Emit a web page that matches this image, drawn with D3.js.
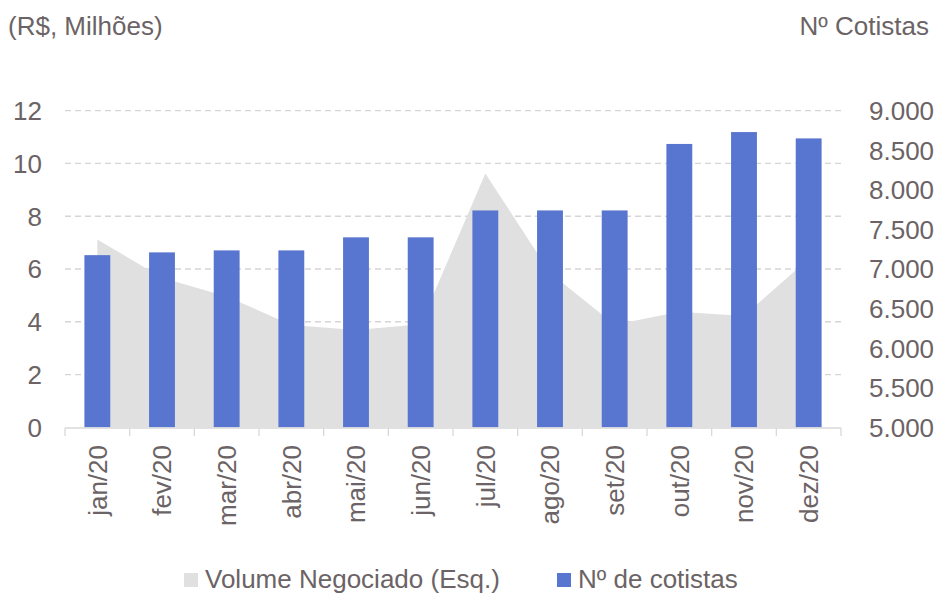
<!DOCTYPE html>
<html>
<head>
<meta charset="utf-8">
<script src="https://cdn.jsdelivr.net/npm/d3@7"></script>
<style>
  html, body { margin: 0; padding: 0; background: #fff; }
  svg { display: block; }
  text { font-family: "Liberation Sans", Arial, sans-serif; fill: #6b6365; }
</style>
</head>
<body>
<svg id="chart" width="939" height="595"></svg>
<script>
// ---- Data ----
const months = ["jan/20","fev/20","mar/20","abr/20","mai/20","jun/20","jul/20","ago/20","set/20","out/20","nov/20","dez/20"];
const volume = [7.12, 5.67, 4.96, 3.88, 3.69, 3.91, 9.62, 5.86, 3.89, 4.38, 4.22, 6.39];
const cotistas = [7175, 7210, 7235, 7235, 7400, 7400, 7740, 7740, 7740, 8580, 8730, 8650];
const leftTicks = [0, 2, 4, 6, 8, 10, 12];
const rightTicks = [5000, 5500, 6000, 6500, 7000, 7500, 8000, 8500, 9000];
const legendLabels = ["Volume Negociado (Esq.)", "Nº de cotistas"];

const svg = d3.select("#chart");
const fontSize = 26;
const colArea = "#e0e0e0", colBar = "#5875cf", colGrid = "#d9d4d4", colAxis = "#d9d9d9";

const x = d3.scaleBand().domain(months).range([65, 841]).padding(0);
const yL = d3.scaleLinear().domain([0, 12]).range([427.3, 110.7]);
const yR = d3.scaleLinear().domain([5000, 9000]).range([427.3, 110.7]);
const loc = d3.formatLocale({decimal: ",", thousands: ".", grouping: [3], currency: ["R$", ""]});
const fmtR = loc.format(",.0f");

// gridlines
svg.append("g").selectAll("line").data(leftTicks.filter(d => d > 0)).join("line")
  .attr("x1", 65).attr("x2", 841)
  .attr("y1", d => yL(d)).attr("y2", d => yL(d))
  .attr("stroke", colGrid).attr("stroke-width", 1.3).attr("stroke-dasharray", "6,4");

// area
const area = d3.area()
  .x((d, i) => x(months[i]) + x.bandwidth() / 2)
  .y0(yL(0))
  .y1(d => yL(d));
svg.append("path").datum(volume).attr("d", area).attr("fill", colArea);

// bars
const bw = x.bandwidth() * 0.4;
svg.append("g").selectAll("rect").data(cotistas).join("rect")
  .attr("x", (d, i) => x(months[i]) + x.bandwidth() / 2 - bw / 2)
  .attr("width", bw)
  .attr("y", d => yR(d))
  .attr("height", d => yR(5000) - yR(d))
  .attr("fill", colBar);

// x axis
const xAxis = svg.append("g");
xAxis.append("line").attr("x1", 65).attr("x2", 841).attr("y1", 428).attr("y2", 428)
  .attr("stroke", colAxis).attr("stroke-width", 1.3);
const bounds = months.map(m => x(m)).concat([x(months[months.length - 1]) + x.bandwidth()]);
xAxis.selectAll("line.tick").data(bounds).join("line").attr("class", "tick")
  .attr("x1", d => d).attr("x2", d => d).attr("y1", 428).attr("y2", 436)
  .attr("stroke", colAxis).attr("stroke-width", 1.3);
xAxis.selectAll("text").data(months).join("text")
  .attr("transform", d => `translate(${x(d) + x.bandwidth() / 2},445) rotate(-90)`)
  .attr("text-anchor", "end").attr("dy", "0.36em")
  .attr("font-size", fontSize).text(d => d);

// left axis labels
svg.append("g").selectAll("text").data(leftTicks).join("text")
  .attr("x", 42).attr("y", d => yL(d)).attr("dy", "0.36em")
  .attr("text-anchor", "end").attr("font-size", fontSize).text(d => d);

// right axis labels
svg.append("g").selectAll("text").data(rightTicks).join("text")
  .attr("x", 869).attr("y", d => yR(d)).attr("dy", "0.36em")
  .attr("text-anchor", "start").attr("font-size", fontSize).text(d => fmtR(d));

// titles
svg.append("text").attr("x", 8).attr("y", 35).attr("font-size", fontSize).text("(R$, Milhões)");
svg.append("text").attr("x", 929).attr("y", 35).attr("text-anchor", "end").attr("font-size", fontSize).text("Nº Cotistas");

// legend
const legX = [184, 557];
const legCol = [colArea, colBar];
const leg = svg.append("g");
legendLabels.forEach((t, i) => {
  leg.append("rect").attr("x", legX[i]).attr("y", 573).attr("width", 14).attr("height", 14).attr("fill", legCol[i]);
  leg.append("text").attr("x", legX[i] + 21).attr("y", 588).attr("font-size", fontSize).text(t);
});
</script>
</body>
</html>
